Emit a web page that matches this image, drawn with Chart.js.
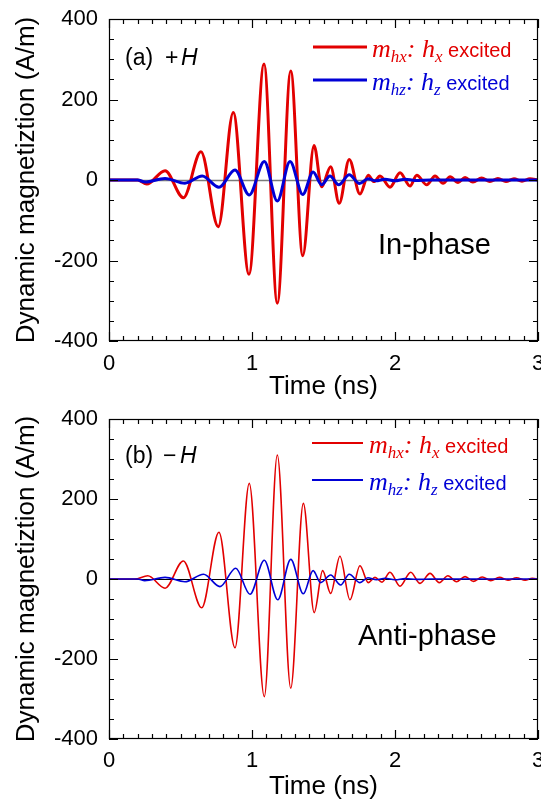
<!DOCTYPE html>
<html>
<head>
<meta charset="utf-8">
<script src="https://cdn.jsdelivr.net/npm/chart.js@4.4.0/dist/chart.umd.min.js"></script>
<style>
  body { margin: 0; background: #fff; }
  canvas { display: block; }
</style>
</head>
<body>
<canvas id="chart_a" width="541" height="400"></canvas>
<canvas id="chart_b" width="541" height="407"></canvas>
<script>
// (a) +H : in-phase
const timeRedA = [0, 0.20, 0.264, 0.392, 0.520, 0.643, 0.764, 0.869, 0.979, 1.084, 1.177, 1.271, 1.355, 1.434, 1.487, 1.550, 1.610, 1.680, 1.755, 1.813, 1.853, 1.895, 1.965, 2.035, 2.105, 2.152, 2.222, 2.280, 2.336, 2.385, 2.441, 2.490, 2.545, 2.606, 2.664, 2.720, 2.776, 2.832, 2.888, 2.944, 3.0]
const magRedA = [0, 0, -10, 23, -44, 70, -116, 168, -234, 288, -306, 271, -188, 86, -17, 33, -58, 51, -35, 12, -4, 10, -18, 18, -15, 12, -12, 10, -8, 8, -6, 6, -5, 5, -4, 4, -4, 3, -3, 3, 0]
const timeBlueA = [0, 0.20, 0.252, 0.392, 0.531, 0.652, 0.769, 0.881, 0.981, 1.086, 1.177, 1.266, 1.355, 1.427, 1.487, 1.545, 1.606, 1.680, 1.752, 1.811, 1.867, 1.930, 2.0, 2.07, 2.14, 2.25, 3.0]
const magBlueA = [0, 0, -5, 4, -8, 10, -18, 25, -37, 46, -52, 46, -36, 20, -12, 10, -12, 13, -9, 3, -2, 2, -2, 2, -1, 0, 0]

// (b) -H : anti-phase
const timeRedB = [0, 0.18, 0.271, 0.392, 0.520, 0.648, 0.769, 0.881, 0.981, 1.086, 1.177, 1.271, 1.359, 1.435, 1.494, 1.550, 1.615, 1.685, 1.755, 1.813, 1.860, 1.909, 1.965, 2.035, 2.110, 2.175, 2.245, 2.31, 2.37, 2.43, 2.49, 2.55, 2.61, 2.67, 2.73, 2.79, 2.85, 2.91, 2.96, 3.0]
const magRedB = [0, 0, 8, -23, 45, -72, 117, -172, 239, -294, 310, -273, 189, -84, 21, -36, 57, -52, 33, -9, 4, -8, 17, -18, 17, -11, 14, -9, 8, -7, 6, -6, 5, -4, 4, -3, 3, -3, 2, 0]
const timeBlueB = [0, 0.20, 0.25, 0.392, 0.531, 0.661, 0.776, 0.886, 0.986, 1.086, 1.180, 1.271, 1.359, 1.427, 1.480, 1.550, 1.620, 1.680, 1.755, 1.81, 1.87, 1.93, 2.0, 2.07, 2.15, 2.25, 3.0]
const magBlueB = [0, 0, -4, 4, -7, 12, -19, 27, -38, 47, -52, 49, -37, 21, -9, 10, -15, 12, -9, 3, -2, 2, -2, 1, -1, 0, 0]

const xTickValues = [0, 1, 2, 3]
const yTickValues = [-400, -200, 0, 200, 400]

const RED = '#e20000'
const BLUE = '#0000d6'
const SANS = '"Liberation Sans", Arial, sans-serif'
const SERIF = '"Liberation Serif", "Times New Roman", serif'

function drawParts(ctx, x, y, parts, color) {
  ctx.fillStyle = color
  ctx.textAlign = 'left'
  ctx.textBaseline = 'alphabetic'
  for (const p of parts) {
    ctx.font = p.font
    if (p.x !== undefined) x = p.x
    ctx.fillText(p.text, x, y + (p.dy || 0))
    x += ctx.measureText(p.text).width
  }
}

function legendParts(sub1, sub2) {
  return [
    { text: 'm', font: 'italic 26px ' + SERIF },
    { text: sub1, font: 'italic 17px ' + SERIF, dy: 5 },
    { text: ': ', font: 'italic 26px ' + SERIF },
    { text: 'h', font: 'italic 26px ' + SERIF },
    { text: sub2, font: 'italic 17px ' + SERIF, dy: 5 },
    { text: ' excited', font: '20px ' + SANS }
  ]
}

// frame with inward ticks, zero line and the text inside the box
const boxPlugin = {
  id: 'box',
  beforeDatasetsDraw(chart, args, o) {
    const { ctx, chartArea: a, scales: { y } } = chart
    const y0 = Math.round(y.getPixelForValue(0)) + 0.5
    ctx.save()
    ctx.strokeStyle = o.zeroColor
    ctx.lineWidth = o.zeroWidth
    ctx.beginPath()
    ctx.moveTo(a.left, y0)
    ctx.lineTo(a.right, y0)
    ctx.stroke()
    ctx.restore()
  },
  afterDatasetsDraw(chart, args, o) {
    const { ctx, chartArea: a, scales: { x, y } } = chart
    ctx.save()
    ctx.strokeStyle = '#000'
    ctx.lineWidth = 1.2
    ctx.strokeRect(a.left + 0.5, a.top + 0.5, a.right - a.left - 1, a.bottom - a.top - 1)

    ctx.beginPath()
    for (let i = 0; i <= 30; i++) {
      const px = Math.round(x.getPixelForValue(i / 10)) + 0.5
      const len = i % 10 === 0 ? 9 : 5
      ctx.moveTo(px, a.bottom)
      ctx.lineTo(px, a.bottom - len)
      ctx.moveTo(px, a.top)
      ctx.lineTo(px, a.top + len)
    }
    for (let i = -8; i <= 8; i++) {
      const py = Math.round(y.getPixelForValue(i * 50)) + 0.5
      const len = i % 4 === 0 ? 9 : 5
      ctx.moveTo(a.left, py)
      ctx.lineTo(a.left + len, py)
      ctx.moveTo(a.right, py)
      ctx.lineTo(a.right - len, py)
    }
    ctx.stroke()

    // panel label and phase text
    drawParts(ctx, 0, o.labelY, o.labelParts, '#000')
    ctx.font = '29px ' + SANS
    ctx.fillText(o.phaseText, o.phaseX, o.phaseY)

    // legend
    ctx.lineWidth = o.legendWidth
    ctx.strokeStyle = RED
    ctx.beginPath()
    ctx.moveTo(o.legendX0, o.legendY[0])
    ctx.lineTo(o.legendX1, o.legendY[0])
    ctx.stroke()
    ctx.strokeStyle = BLUE
    ctx.beginPath()
    ctx.moveTo(o.legendX0, o.legendY[1])
    ctx.lineTo(o.legendX1, o.legendY[1])
    ctx.stroke()
    drawParts(ctx, o.textX, o.legendY[0] + 10, legendParts('hx', 'x'), RED)
    drawParts(ctx, o.textX, o.legendY[1] + 10, legendParts('hz', 'z'), BLUE)
    ctx.restore()
  }
}

function makePanel(id, red, blue, p) {
  const ctx = document.getElementById(id).getContext('2d')
  const tickFont = { family: SANS, size: 22 }
  const titleFont = { family: SANS, size: 26, lineHeight: 1 }

  return new Chart(ctx, {
    type: 'line',
    data: {
      datasets: [
        {
          data: blue[0].map((t, i) => ({ x: t, y: blue[1][i] })),
          borderColor: BLUE, borderWidth: p.lineWidth, pointRadius: 0,
          cubicInterpolationMode: 'monotone', fill: false, order: 0
        },
        {
          data: red[0].map((t, i) => ({ x: t, y: red[1][i] })),
          borderColor: RED, borderWidth: p.lineWidth, pointRadius: 0,
          cubicInterpolationMode: 'monotone', fill: false, order: 1
        }
      ]
    },
    options: {
      responsive: false,
      animation: false,
      layout: { padding: { top: 19, right: 3, left: 0, bottom: 0 } },
      plugins: {
        legend: { display: false },
        tooltip: { enabled: false },
        box: p.box
      },
      scales: {
        x: {
          type: 'linear', min: 0, max: 3,
          afterBuildTicks: s => { s.ticks = xTickValues.map(v => ({ value: v })) },
          ticks: { font: tickFont, color: '#000', padding: p.xTickPad, maxRotation: 0 },
          grid: { display: false, drawTicks: false },
          border: { display: false },
          title: { display: true, text: 'Time (ns)', font: titleFont, color: '#000', padding: { top: 0, bottom: p.xTitlePad } },
          afterFit: s => { s.height = p.xHeight; s.paddingLeft = 0; s.paddingRight = 0 }
        },
        y: {
          type: 'linear', min: -400, max: 400,
          afterBuildTicks: s => { s.ticks = yTickValues.map(v => ({ value: v })) },
          ticks: { font: tickFont, color: '#000', padding: 11 },
          grid: { display: false, drawTicks: false },
          border: { display: false },
          title: { display: true, text: 'Dynamic magnetiztion (A/m)', font: titleFont, color: '#000', padding: { top: 14, bottom: 0 } },
          afterFit: s => { s.width = 109; s.paddingTop = 0; s.paddingBottom = 0 }
        }
      }
    },
    plugins: [boxPlugin]
  })
}

makePanel('chart_a', [timeRedA, magRedA], [timeBlueA, magBlueA], {
  lineWidth: 3, xHeight: 59, xTickPad: 10, xTitlePad: 0,
  box: {
    zeroColor: '#7a7a7a', zeroWidth: 1.5,
    labelY: 65,
    labelParts: [
      { text: '(a)', font: '23px ' + SANS, x: 125 },
      { text: '+', font: '23px ' + SANS, x: 165 },
      { text: 'H', font: 'italic 23px ' + SANS, x: 181 }
    ],
    phaseText: 'In-phase', phaseX: 378, phaseY: 254,
    legendWidth: 3, legendX0: 313, legendX1: 367, legendY: [47, 80], textX: 372
  }
})

makePanel('chart_b', [timeRedB, magRedB], [timeBlueB, magBlueB], {
  lineWidth: 1.6, xHeight: 68, xTickPad: 9, xTitlePad: 7,
  box: {
    zeroColor: '#000', zeroWidth: 1,
    labelY: 63,
    labelParts: [
      { text: '(b)', font: '23px ' + SANS, x: 125 },
      { text: '\u2212', font: '23px ' + SANS, x: 163 },
      { text: 'H', font: 'italic 23px ' + SANS, x: 180 }
    ],
    phaseText: 'Anti-phase', phaseX: 358, phaseY: 245,
    legendWidth: 2, legendX0: 312, legendX1: 363, legendY: [43, 80], textX: 369
  }
})
</script>
</body>
</html>
